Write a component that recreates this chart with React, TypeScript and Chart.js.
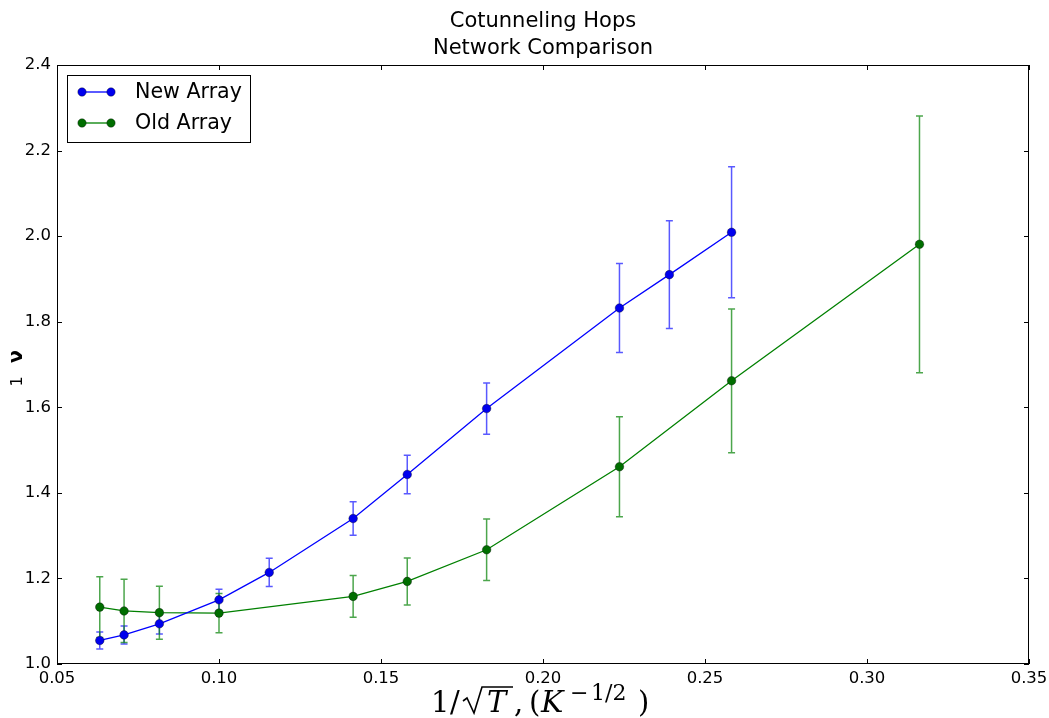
import { useEffect, useRef } from "react";
import { Chart, registerables } from "chart.js";

Chart.register(...registerables);

// ---- data ----
const titleLines = ["Cotunneling Hops", "Network Comparison"];
const seriesNames = ["New Array", "Old Array"];

const newX = [0.0632, 0.0707, 0.0816, 0.1, 0.1155, 0.1414, 0.1581, 0.1826, 0.2236, 0.239, 0.2582];
const newY = [1.055, 1.068, 1.094, 1.150, 1.214, 1.340, 1.443, 1.597, 1.832, 1.910, 2.009];
const newErr = [0.020, 0.021, 0.024, 0.025, 0.033, 0.039, 0.045, 0.060, 0.104, 0.126, 0.153];

const oldX = [0.0632, 0.0707, 0.0816, 0.1, 0.1414, 0.1581, 0.1826, 0.2236, 0.2582, 0.3162];
const oldY = [1.133, 1.124, 1.120, 1.119, 1.158, 1.193, 1.267, 1.461, 1.662, 1.981];
const oldErr = [0.071, 0.074, 0.062, 0.046, 0.049, 0.055, 0.072, 0.117, 0.168, 0.300];

const xTicks = [0.05, 0.1, 0.15, 0.2, 0.25, 0.3, 0.35];
const yTicks = [1.0, 1.2, 1.4, 1.6, 1.8, 2.0, 2.2, 2.4];

const BLUE = "#0000ff";
const GREEN = "#008000";
const TICK_FONT = "DejaVu Sans";
const MATH_FONT = `"DejaVu Serif"`;

const errors = [newErr, oldErr];
const errColors = ["rgba(0,0,255,0.65)", "rgba(0,128,0,0.7)"];
const lineColors = [BLUE, GREEN];

const errorBarPlugin = {
  id: "errorBars",
  beforeDatasetsDraw(chart: any) {
    const ctx = chart.ctx;
    const xs = chart.scales.x;
    const ys = chart.scales.y;
    chart.data.datasets.forEach((ds: any, i: number) => {
      const err = errors[i];
      ctx.save();
      ctx.strokeStyle = errColors[i];
      ctx.lineWidth = 1.5;
      ds.data.forEach((p: any, j: number) => {
        const px = xs.getPixelForValue(p.x);
        const top = ys.getPixelForValue(p.y + err[j]);
        const bot = ys.getPixelForValue(p.y - err[j]);
        ctx.beginPath();
        ctx.moveTo(px, top);
        ctx.lineTo(px, bot);
        ctx.moveTo(px - 3.5, top);
        ctx.lineTo(px + 3.5, top);
        ctx.moveTo(px - 3.5, bot);
        ctx.lineTo(px + 3.5, bot);
        ctx.stroke();
      });
      ctx.restore();
    });
  },
};

const decorPlugin = {
  id: "decor",
  afterDraw(chart: any) {
    const ctx = chart.ctx;
    const a = chart.chartArea;
    const xs = chart.scales.x;
    const ys = chart.scales.y;
    ctx.save();
    // frame
    ctx.strokeStyle = "#000";
    ctx.lineWidth = 1;
    ctx.strokeRect(Math.round(a.left) + 0.5, Math.round(a.top) + 0.5, Math.round(a.right - a.left) - 1, Math.round(a.bottom - a.top) - 1);
    // inward ticks
    ctx.beginPath();
    xTicks.forEach((v) => {
      const px = Math.round(xs.getPixelForValue(v)) + 0.5;
      ctx.moveTo(px, a.bottom);
      ctx.lineTo(px, a.bottom - 5);
      ctx.moveTo(px, a.top);
      ctx.lineTo(px, a.top + 5);
    });
    yTicks.forEach((v) => {
      const py = Math.round(ys.getPixelForValue(v)) + 0.5;
      ctx.moveTo(a.left, py);
      ctx.lineTo(a.left + 5, py);
      ctx.moveTo(a.right, py);
      ctx.lineTo(a.right - 5, py);
    });
    ctx.stroke();

    // title
    const cx = (a.left + a.right) / 2;
    ctx.fillStyle = "#000";
    ctx.font = `21px ${TICK_FONT}`;
    ctx.textAlign = "center";
    ctx.textBaseline = "middle";
    ctx.fillText(titleLines[0], cx, 22);
    ctx.fillText(titleLines[1], cx, 48.5);

    // legend
    const lx = a.left + 10;
    const ly = a.top + 10;
    ctx.strokeStyle = "#000";
    ctx.lineWidth = 1;
    ctx.fillStyle = "#fff";
    ctx.fillRect(lx + 0.5, ly + 0.5, 183, 67);
    ctx.strokeRect(lx + 0.5, ly + 0.5, 183, 67);
    seriesNames.forEach((name, i) => {
      const yy = ly + 17 + i * 31;
      ctx.strokeStyle = lineColors[i];
      ctx.lineWidth = 1.3;
      ctx.beginPath();
      ctx.moveTo(lx + 15, yy);
      ctx.lineTo(lx + 44, yy);
      ctx.stroke();
      [lx + 15, lx + 44].forEach((mx) => {
        ctx.beginPath();
        ctx.arc(mx, yy, 4.2, 0, Math.PI * 2);
        ctx.fillStyle = i === 0 ? "#0000ee" : "#006e00";
        ctx.fill();
        ctx.lineWidth = 0.6;
        ctx.strokeStyle = "rgba(0,0,0,0.6)";
        ctx.stroke();
      });
      ctx.fillStyle = "#000";
      ctx.font = `20.6px ${TICK_FONT}`;
      ctx.textAlign = "left";
      ctx.textBaseline = "middle";
      ctx.fillText(name, lx + 68, yy + 1);
    });

    // x-axis label: 1/sqrt(T), (K^{-1/2})
    const ox = cx - 112;
    const base = 712;
    ctx.fillStyle = "#000";
    ctx.textAlign = "left";
    ctx.textBaseline = "alphabetic";
    ctx.font = `29px ${MATH_FONT}`;
    ctx.fillText("1", ox, base);
    ctx.fillText("/", ox + 19, base);
    // radical sign
    ctx.strokeStyle = "#000";
    ctx.lineWidth = 1.6;
    ctx.beginPath();
    ctx.moveTo(ox + 32, base - 11);
    ctx.lineTo(ox + 36, base - 14);
    ctx.lineTo(ox + 43, base + 1);
    ctx.lineTo(ox + 51, base - 25);
    ctx.lineTo(ox + 82, base - 25);
    ctx.stroke();
    ctx.font = `italic 29px ${MATH_FONT}`;
    ctx.fillText("T", ox + 56, base);
    ctx.font = `29px ${MATH_FONT}`;
    ctx.fillText(",", ox + 83, base);
    ctx.fillText("(", ox + 98, base);
    ctx.font = `italic 30px ${MATH_FONT}`;
    ctx.fillText("K", ox + 110, base);
    ctx.font = `22px ${MATH_FONT}`;
    ctx.fillText("\u2212", ox + 139, base - 12);
    ctx.fillText("1/2", ox + 160, base - 12);
    ctx.font = `29px ${MATH_FONT}`;
    ctx.fillText(")", ox + 207, base);

    // y-axis label
    ctx.save();
    ctx.translate(22, (a.top + a.bottom) / 2);
    ctx.rotate(-Math.PI / 2);
    ctx.textBaseline = "alphabetic";
    ctx.textAlign = "left";
    ctx.font = `16px ${TICK_FONT}`;
    ctx.fillText("1", -22, 0);
    ctx.font = `bold 19px ${TICK_FONT}`;
    ctx.fillText("\u03bd", 1.5, 0);
    ctx.restore();

    ctx.restore();
  },
};

function makeData(xs: number[], ys: number[]) {
  return xs.map((x, i) => ({ x, y: ys[i] }));
}

export default function App() {
  const ref = useRef<HTMLCanvasElement | null>(null);
  useEffect(() => {
    if (!ref.current) return;
    const chart = new Chart(ref.current, {
      type: "line",
      data: {
        datasets: [
          {
            label: seriesNames[0],
            data: makeData(newX, newY),
            borderColor: BLUE,
            borderWidth: 1.3,
            pointRadius: 4.3,
            pointBackgroundColor: "#0000ee",
            pointBorderColor: "rgba(0,0,0,0.6)",
            pointBorderWidth: 0.6,
            tension: 0,
            fill: false,
          },
          {
            label: seriesNames[1],
            data: makeData(oldX, oldY),
            borderColor: GREEN,
            borderWidth: 1.3,
            pointRadius: 4.3,
            pointBackgroundColor: "#006e00",
            pointBorderColor: "rgba(0,0,0,0.6)",
            pointBorderWidth: 0.6,
            tension: 0,
            fill: false,
          },
        ],
      },
      options: {
        responsive: false,
        animation: false,
        devicePixelRatio: 1,
        layout: { padding: { top: 65, right: 20, left: 0, bottom: 0 } },
        plugins: {
          legend: { display: false },
          title: { display: false },
          tooltip: { enabled: false },
        },
        scales: {
          x: {
            type: "linear",
            min: 0.05,
            max: 0.35,
            grid: { display: false, drawTicks: false },
            border: { display: false },
            afterBuildTicks: (s: any) => {
              s.ticks = xTicks.map((v) => ({ value: v }));
            },
            afterFit: (s: any) => {
              s.height = 54;
              s.paddingLeft = 0;
              s.paddingRight = 0;
            },
            ticks: {
              color: "#000",
              padding: 5,
              maxRotation: 0,
              autoSkip: false,
              font: { family: TICK_FONT, size: 16.5 },
              callback: (v: any) => Number(v).toFixed(2),
            },
          },
          y: {
            type: "linear",
            min: 1.0,
            max: 2.4,
            grid: { display: false, drawTicks: false },
            border: { display: false },
            afterBuildTicks: (s: any) => {
              s.ticks = yTicks.map((v) => ({ value: v }));
            },
            afterFit: (s: any) => {
              s.width = 57;
              s.paddingTop = 0;
              s.paddingBottom = 0;
            },
            ticks: {
              color: "#000",
              padding: 6,
              autoSkip: false,
              font: { family: TICK_FONT, size: 16.5 },
              callback: (v: any) => Number(v).toFixed(1),
            },
          },
        },
      },
      plugins: [errorBarPlugin, decorPlugin],
    } as any);
    return () => chart.destroy();
  }, []);
  return (
    <div style={{ position: "fixed", left: 0, top: 0, width: 1049, height: 718, background: "#fff" }}>
      <canvas ref={ref} width={1049} height={718} style={{ display: "block" }} />
    </div>
  );
}
